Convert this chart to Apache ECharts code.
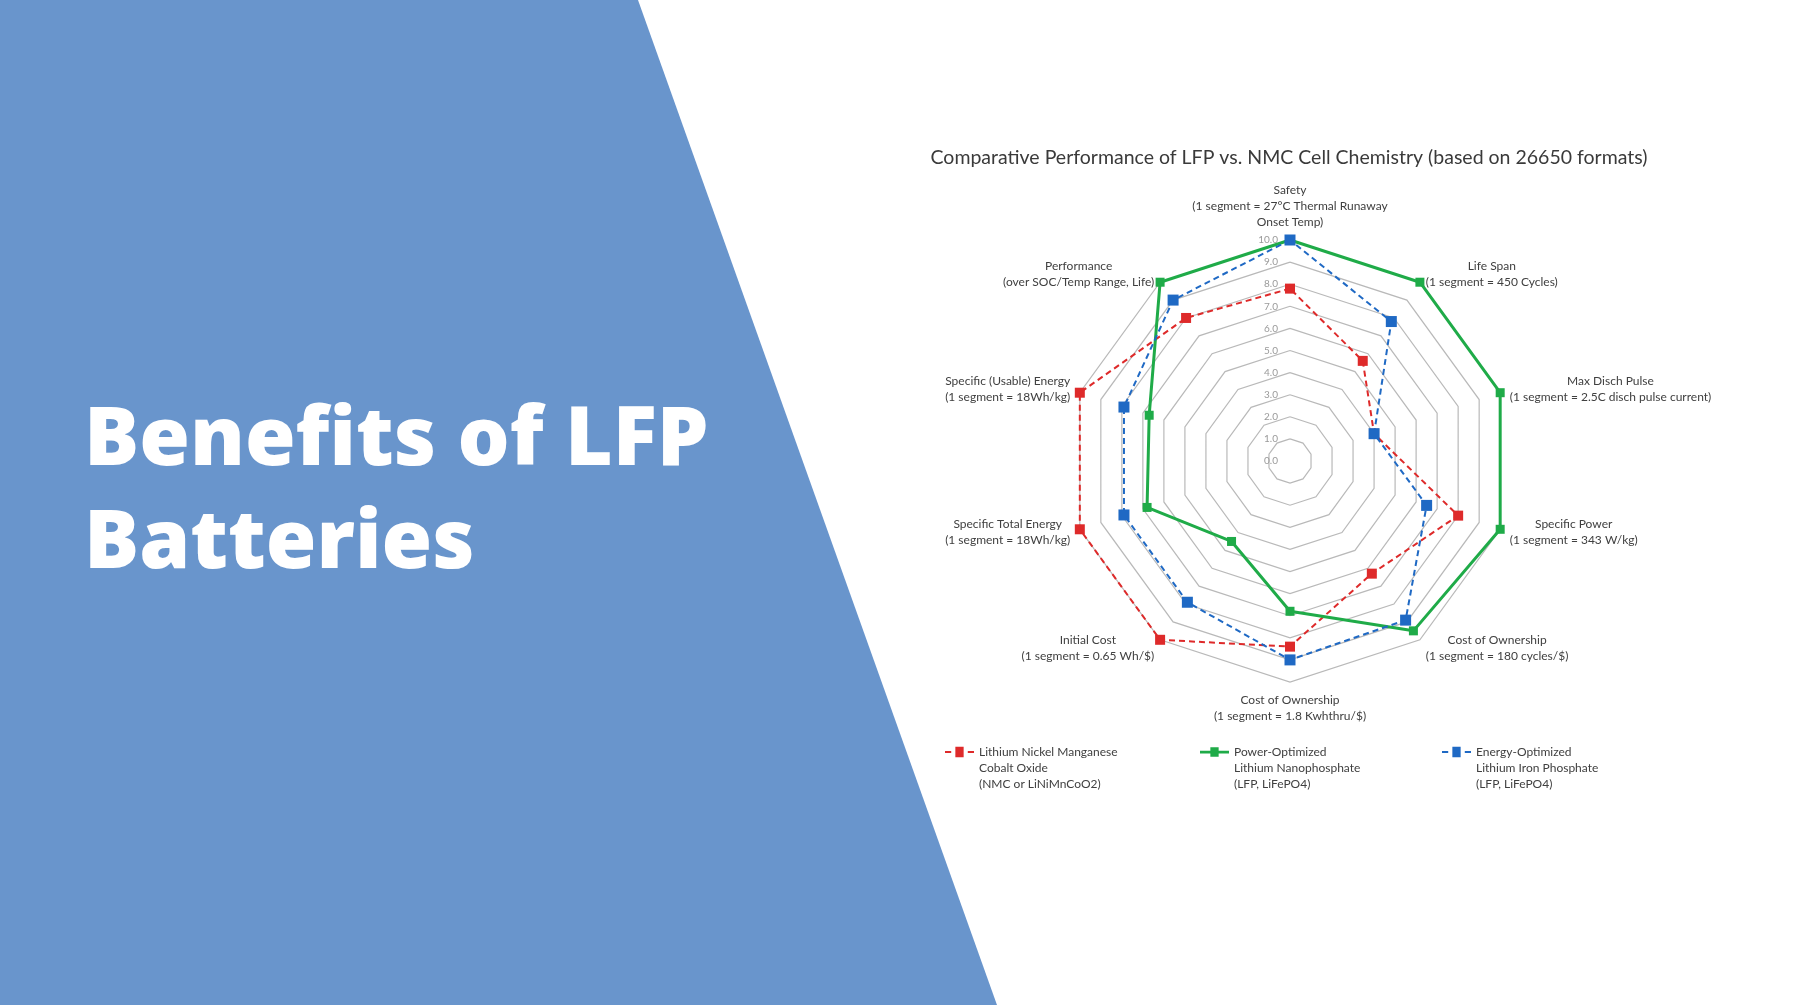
<!DOCTYPE html>
<html>
<head>
<meta charset="utf-8">
<script src="https://cdn.jsdelivr.net/npm/echarts@6/dist/echarts.min.js"></script>
<style>
  html, body { margin: 0; padding: 0; background: #fff; }
  #main { width: 1797px; height: 1005px; }
</style>
</head>
<body>
<div id="main"></div>
<script>
// indicators, listed counterclockwise from the top (ECharts radar order)
const indicatorNames = [
  'Safety\n(1 segment = 27°C Thermal Runaway\nOnset Temp)',
  'Performance\n(over SOC/Temp Range, Life)',
  'Specific (Usable) Energy\n(1 segment = 18Wh/kg)',
  'Specific Total Energy\n(1 segment = 18Wh/kg)',
  'Initial Cost\n(1 segment = 0.65 Wh/$)',
  'Cost of Ownership\n(1 segment = 1.8 Kwhthru/$)',
  'Cost of Ownership\n(1 segment = 180 cycles/$)',
  'Specific Power\n(1 segment = 343 W/kg)',
  'Max Disch Pulse\n(1 segment = 2.5C disch pulse current)',
  'Life Span\n(1 segment = 450 Cycles)'
]

const seriesNames = [
  'Lithium Nickel Manganese\nCobalt Oxide\n(NMC or LiNiMnCoO2)',
  'Power-Optimized\nLithium Nanophosphate\n(LFP, LiFePO4)',
  'Energy-Optimized\nLithium Iron Phosphate\n(LFP, LiFePO4)'
]

const nmcValues = [7.8, 8.0, 10, 10, 10, 8.4, 6.3, 8.0, 4.0, 5.6]
const powerLfpValues = [10, 10, 6.7, 6.8, 4.5, 6.8, 9.5, 10, 10, 10]
const energyLfpValues = [10, 9.0, 7.9, 7.9, 7.9, 9.0, 8.9, 6.5, 4.0, 7.8]

const chartTitle = 'Comparative Performance of LFP vs. NMC Cell Chemistry (based on 26650 formats)'
const headingLines = ['Benefits of LFP', 'Batteries']

const RED = '#de2a2a'
const GREEN = '#1fab48'
const BLUE = '#1f69c4'
const textFont = 'Lato, "Noto Sans", sans-serif'

// legend icons in the excel style: dash - square - dash / line with square
const dashedIcon = 'path://M0,5h6v2h-6z M10,1h8v10h-8z M22,5h6v2h-6z'
const solidIcon = 'path://M0,4.8h28v2.6h-28z M10,1.5h8v9h-8z'

const myChart = echarts.init(document.getElementById('main'), null, { renderer: 'canvas' })

const makeLegend = (name, left, icon) => ({
  data: [{ name: name, icon: icon }],
  left: left,
  top: 712,
  padding: 0,
  itemWidth: 29,
  itemHeight: 12,
  selectedMode: false,
  // two blank lines in front so the first line sits beside the icon
  formatter: (n) => '\n\n' + n,
  textStyle: {
    color: '#404040',
    fontSize: 12,
    fontFamily: textFont,
    lineHeight: 16
  }
})

const option = {
  animation: false,
  backgroundColor: '#ffffff',
  graphic: [
    {
      type: 'polygon',
      z: -10,
      shape: { points: [[0, 0], [638, 0], [997, 1005], [0, 1005]] },
      style: { fill: '#6995cc' }
    },
    {
      type: 'text',
      style: {
        x: 84, y: 442, text: headingLines[0], fill: '#ffffff',
        font: '800 82px "Open Sans", Lato, sans-serif',
        align: 'left', verticalAlign: 'middle'
      }
    },
    {
      type: 'text',
      style: {
        x: 84, y: 545, text: headingLines[1], fill: '#ffffff',
        font: '800 82px "Open Sans", Lato, sans-serif',
        align: 'left', verticalAlign: 'middle'
      }
    },
    {
      type: 'text',
      style: {
        x: 1289, y: 158, text: chartTitle, fill: '#3a3a3a',
        font: '19.5px Lato, "Noto Sans", sans-serif',
        align: 'center', verticalAlign: 'middle'
      }
    }
  ],
  legend: [
    makeLegend(seriesNames[0], 945, dashedIcon),
    makeLegend(seriesNames[1], 1200, solidIcon),
    makeLegend(seriesNames[2], 1442, dashedIcon)
  ],
  radar: {
    center: [1290, 461],
    radius: 221,
    startAngle: 90,
    shape: 'polygon',
    splitNumber: 10,
    nameGap: 10,
    axisName: {
      color: '#404040',
      fontSize: 12,
      fontFamily: textFont,
      lineHeight: 16,
      // each line centred inside its block, like the excel labels
      formatter: (name) => name.split('\n').map((l) => '{c|' + l + '}').join('\n'),
      rich: {
        c: {
          align: 'center',
          color: '#404040',
          fontSize: 12,
          fontFamily: textFont,
          lineHeight: 16
        }
      }
    },
    axisLine: { show: false },
    axisTick: { show: false },
    axisLabel: { show: false },
    splitArea: { show: false },
    splitLine: { lineStyle: { color: '#b9b9b9', width: 1.2 } },
    indicator: indicatorNames.map((name, i) => {
      const ind = { name: name, min: 0, max: 10 }
      if (i === 0) {
        ind.axisLabel = {
          show: true,
          color: '#9a9a9a',
          fontSize: 10,
          fontFamily: textFont,
          margin: 12,
          formatter: (v) => Number(v).toFixed(1)
        }
      }
      return ind
    })
  },
  series: [
    {
      type: 'radar',
      symbol: 'rect',
      data: [
        {
          name: seriesNames[0],
          value: nmcValues,
          symbolSize: 10,
          lineStyle: { color: RED, width: 2, type: [6, 4] },
          itemStyle: { color: RED }
        },
        {
          name: seriesNames[1],
          value: powerLfpValues,
          symbolSize: 9,
          lineStyle: { color: GREEN, width: 3, type: 'solid' },
          itemStyle: { color: GREEN }
        },
        {
          name: seriesNames[2],
          value: energyLfpValues,
          symbolSize: 11,
          lineStyle: { color: BLUE, width: 2, type: [6, 4] },
          itemStyle: { color: BLUE }
        }
      ]
    }
  ]
}

myChart.setOption(option)

window.onresize = function () {
  myChart.resize()
}
</script>
</body>
</html>
